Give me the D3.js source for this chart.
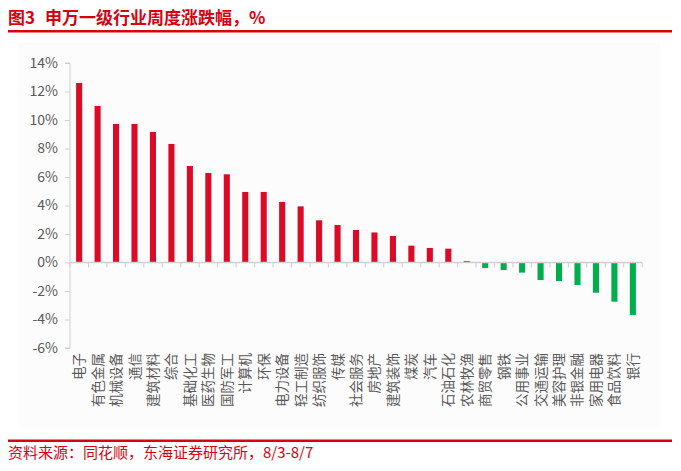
<!DOCTYPE html>
<html>
<head>
<meta charset="utf-8">
<script src="https://cdn.jsdelivr.net/npm/d3@7"></script>
<style>
  body { margin: 0; background: #fff; }
  text { font-family: "Noto Sans CJK SC", "Noto Sans", sans-serif; }
</style>
</head>
<body>
<svg id="svg" width="681" height="471"></svg>
<script>
// 申万一级行业，8/3-8/7 周度涨跌幅 (%)
var industries = ["电子","有色金属","机械设备","通信","建筑材料","综合","基础化工","医药生物","国防军工","计算机","环保","电力设备","轻工制造","纺织服饰","传媒","社会服务","房地产","建筑装饰","煤炭","汽车","石油石化","农林牧渔","商贸零售","钢铁","公用事业","交通运输","美容护理","非银金融","家用电器","食品饮料","银行"];
var changes = [12.6, 10.98, 9.72, 9.72, 9.16, 8.32, 6.77, 6.28, 6.19, 4.95, 4.95, 4.25, 3.94, 2.96, 2.63, 2.28, 2.11, 1.86, 1.18, 1.02, 0.97, 0.1, -0.39, -0.53, -0.71, -1.23, -1.30, -1.58, -2.12, -2.75, -3.68];
var yTicks = [14, 12, 10, 8, 6, 4, 2, 0, -2, -4, -6];

var svg = d3.select("#svg");
var red = "#d7000f";

// title
svg.append("text")
  .attr("x", 8).attr("y", 24)
  .attr("font-size", 17).attr("font-weight", "bold")
  .attr("fill", red)
  .text("图3");
svg.append("text")
  .attr("x", 45).attr("y", 24)
  .attr("font-size", 17).attr("font-weight", "bold")
  .attr("fill", red)
  .text("申万一级行业周度涨跌幅，%");
svg.append("rect").attr("x", 8).attr("y", 30).attr("width", 664).attr("height", 2.5).attr("fill", red);

// plot area background
svg.append("rect").attr("x", 18).attr("y", 43).attr("width", 642).attr("height", 385).attr("fill", "#fcfcfc");

var x = d3.scaleBand().domain(industries).range([70, 642]).paddingInner(0.67).paddingOuter(0.33);
var y = d3.scaleLinear().domain([-6, 14]).range([348, 63]);

var g = svg.append("g");

// y axis
var yAxis = g.append("g").attr("transform", "translate(70,0)")
  .call(d3.axisLeft(y).tickValues(yTicks).tickSize(5).tickPadding(7).tickFormat(function(d) { return d + "%"; }));
yAxis.select(".domain").attr("stroke", "#d0d0d0").attr("d", "M-5," + y(14) + "H0V" + y(-6) + "H-5");
yAxis.selectAll(".tick line").attr("stroke", "#d0d0d0");
yAxis.selectAll(".tick text").attr("fill", "#595959").attr("font-size", 14).attr("font-family", "Liberation Sans, Arial, sans-serif");

// bars
g.selectAll("rect.bar").data(industries).enter().append("rect")
  .attr("class", "bar")
  .attr("x", function(d) { return x(d); })
  .attr("width", x.bandwidth())
  .attr("y", function(d, i) { return y(Math.max(0, changes[i])); })
  .attr("height", function(d, i) { return Math.abs(y(changes[i]) - y(0)); })
  .attr("fill", function(d, i) { return changes[i] >= 0 ? "#d90b26" : "#00ae50"; });

// x axis at zero
var step = x.step();
var xAxis = g.append("g").attr("transform", "translate(0," + y(0) + ")");
xAxis.append("line").attr("x1", 70).attr("x2", 642).attr("stroke", "#d0d0d0").attr("stroke-width", 1.5);
xAxis.selectAll("line.tk").data(d3.range(industries.length + 1)).enter().append("line")
  .attr("class", "tk")
  .attr("x1", function(i) { return 70 + i * step; })
  .attr("x2", function(i) { return 70 + i * step; })
  .attr("y1", 0).attr("y2", 5)
  .attr("stroke", "#d0d0d0");

// category labels, rotated
g.selectAll("text.cat").data(industries).enter().append("text")
  .attr("class", "cat")
  .attr("transform", function(d) { return "translate(" + (x(d) + x.bandwidth() / 2 + 5) + ",353) rotate(-90)"; })
  .attr("text-anchor", "end")
  .attr("font-size", 13.5)
  .attr("fill", "#595959")
  .text(function(d) { return d; });

// footer
svg.append("rect").attr("x", 8).attr("y", 439.5).attr("width", 664).attr("height", 2.5).attr("fill", red);
svg.append("text")
  .attr("x", 8).attr("y", 458)
  .attr("font-size", 15)
  .attr("fill", red)
  .text("资料来源：同花顺，东海证券研究所，8/3-8/7");
</script>
</body>
</html>
